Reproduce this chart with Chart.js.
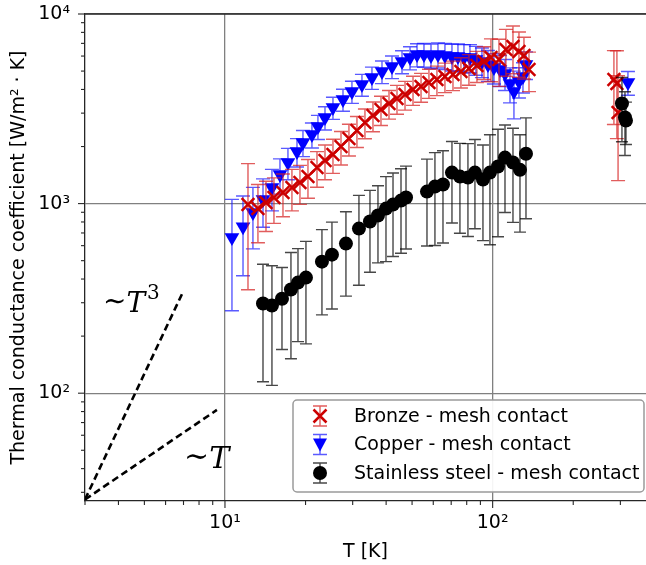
<!DOCTYPE html>
<html><head><meta charset="utf-8">
<script src="https://cdn.jsdelivr.net/npm/chart.js@4.4.1/dist/chart.umd.min.js"></script>
<style>html,body{margin:0;padding:0;background:#fff;}canvas{display:block;}</style>
</head><body>
<canvas id="c" width="646" height="565"></canvas>
<script>
// ---------- data ----------
const bronzeT = [12.19,13.28,14.23,15.24,16.47,17.79,19.06,20.42,22.07,23.64,25.32,27.13,29.05,31.12,33.34,35.72,38.27,41.00,43.92,47.06,50.41,54.01,57.81,61.92,66.34,71.09,76.13,81.55,87.36,92.80,98.56,105.6,112.1,119.1,125.4,130.9,136.7,283.8,291.2,294.1];
const bronzeH = [988,941,1012,1076,1143,1215,1291,1388,1549,1686,1814,1999,2203,2428,2676,2913,3133,3371,3582,3760,3995,4144,4351,4512,4680,4794,4973,5157,5349,5616,5894,5753,6496,6737,6340,6039,5095,4512,4300,3021];
const bronzeErr = [637,320,300,290,290,300,300,320,330,350,370,400,420,450,480,520,550,580,620,650,700,720,760,800,830,850,900,950,1000,1100,1500,1600,1800,1900,1700,1500,1200,1900,2100,1700];

const copperT = [10.62,11.68,12.72,13.87,14.98,16.05,17.19,18.58,19.56,21.13,22.25,23.64,25.32,27.60,29.81,32.49,35.41,38.60,42.07,45.86,49.12,52.18,55.39,58.84,62.48,66.34,70.47,74.20,78.13,82.27,86.61,91.20,96.03,101.1,106.5,111.2,116.1,120.1,125.4,129.8,133.2,320.2];
const copperH = [662,756,897,1050,1215,1422,1646,1881,2099,2313,2549,2843,3211,3538,3899,4246,4624,4973,5284,5616,5894,6114,6114,6039,6114,6039,5967,5967,5894,5894,5753,5616,5414,5220,5095,4850,4300,3899,4405,4680,5414,4351];
const copperErr = [390,340,320,300,300,300,310,320,330,350,370,400,430,470,520,560,620,680,720,780,820,850,880,900,920,950,960,980,1000,1000,1000,1000,1000,950,950,900,900,1100,800,850,900,620];

const steelT = [13.87,14.98,16.33,17.64,18.74,20.07,23.03,25.10,28.31,31.66,34.81,37.29,39.95,42.44,45.46,47.46,56.84,60.87,65.23,70.47,75.47,80.85,85.87,92.00,97.70,104.7,111.2,119.1,126.5,133.2,304.1,312.1,314.8];
const steelH = [297,290,315,352,383,407,494,538,615,738,804,865,941,988,1037,1076,1157,1229,1260,1457,1388,1371,1457,1338,1457,1568,1748,1646,1507,1832,3371,2843,2740];
const steelErr = [182,180,145,200,196,225,235,260,290,367,370,378,447,462,490,500,560,628,640,667,690,700,720,700,850,900,850,850,800,1000,1250,1050,690];

const cubeLineT = [3, 6.97];
const cubeLineH = [27.5, 342];
const linLineT = [3, 9.33];
const linLineH = [27.5, 81.6];

const xTicks = [3,4,5,6,7,8,9,10,20,30,40,50,60,70,80,90,100,200,300];
const yTicks = [30,40,50,60,70,80,90,100,200,300,400,500,600,700,800,900,1000,2000,3000,4000,5000,6000,7000,8000,9000,10000];
const xRange = [3, 374];
const yRange = [27, 10000];

const seriesNames = ['Bronze - mesh contact','Copper - mesh contact','Stainless steel - mesh contact'];

// ---------- helpers ----------
const SUP = {'1':'¹','2':'²','3':'³','4':'⁴'};
function isPow10(v){ const l = Math.log10(v); return Math.abs(l - Math.round(l)) < 1e-9; }
function fmt(v){ if(!isPow10(v)) return ''; return '10' + SUP[String(Math.round(Math.log10(v)))]; }
function pts(xs, ys){ return xs.map((x,i)=>({x:x, y:ys[i]})); }

const FONT = 'DejaVu Sans';
const GRID = '#808080';
const SPINE = '#262626';
const RED = '#cc0000', BLUE = '#0000ff', BLACK = '#000000';
const RED_ERR = 'rgba(214,30,30,0.72)', BLUE_ERR = 'rgba(20,20,255,0.7)', BLACK_ERR = 'rgba(0,0,0,0.72)';

Chart.defaults.font.family = FONT;
Chart.defaults.font.size = 19;
Chart.defaults.color = '#000';

function drawErr(ctx, x, yTop, yBot, cap){
  ctx.beginPath();
  ctx.moveTo(x, yTop); ctx.lineTo(x, yBot);
  ctx.moveTo(x-cap, yTop); ctx.lineTo(x+cap, yTop);
  ctx.moveTo(x-cap, yBot); ctx.lineTo(x+cap, yBot);
  ctx.stroke();
}

const errorBars = {
  id: 'errorBars',
  beforeDatasetDraw(chart, args){
    const ds = chart.data.datasets[args.index];
    if (!ds.errors) return;
    const ctx = chart.ctx, a = chart.chartArea;
    const xs = chart.scales.x, ys = chart.scales.y;
    ctx.save();
    ctx.beginPath(); ctx.rect(a.left, a.top, a.right-a.left, a.bottom-a.top); ctx.clip();
    ctx.strokeStyle = ds.errColor; ctx.lineWidth = 1.4;
    ds.data.forEach((p,i)=>{
      const e = ds.errors[i];
      const px = xs.getPixelForValue(p.x);
      const t = ys.getPixelForValue(p.y + e);
      const b = ys.getPixelForValue(Math.max(p.y - e, 1));
      drawErr(ctx, px, t, b, ds.capHalf);
    });
    ctx.restore();
  }
};

const frame = {
  id: 'frame',
  afterDraw(chart){
    const ctx = chart.ctx, a = chart.chartArea;
    const xs = chart.scales.x, ys = chart.scales.y;
    ctx.save();
    ctx.strokeStyle = SPINE; ctx.lineWidth = 1.3;
    ctx.beginPath(); ctx.moveTo(a.left, a.top); ctx.lineTo(a.right, a.top); ctx.stroke();
    ctx.lineWidth = 1.1;
    xTicks.forEach(v=>{
      const p = xs.getPixelForValue(v); const L = isPow10(v) ? 7 : 4;
      ctx.beginPath(); ctx.moveTo(p, a.bottom); ctx.lineTo(p, a.bottom + L); ctx.stroke();
    });
    yTicks.forEach(v=>{
      const p = ys.getPixelForValue(v); const L = isPow10(v) ? 7 : 4;
      ctx.beginPath(); ctx.moveTo(a.left, p); ctx.lineTo(a.left - L, p); ctx.stroke();
    });
    ctx.restore();
  }
};

const annotations = {
  id: 'annotations',
  afterDatasetsDraw(chart){
    const ctx = chart.ctx;
    const xs = chart.scales.x, ys = chart.scales.y;
    function mathLabel(xv, yv, sup, size){
      let x = xs.getPixelForValue(xv), y = ys.getPixelForValue(yv);
      ctx.save();
      ctx.fillStyle = '#000'; ctx.textBaseline = 'alphabetic'; ctx.textAlign = 'left';
      ctx.font = size + 'px "DejaVu Serif"';
      ctx.fillText('∼', x, y - 2); x += ctx.measureText('∼').width;
      ctx.font = 'italic ' + size + 'px "DejaVu Serif"';
      ctx.fillText('T', x, y); x += ctx.measureText('T').width + 2;
      if (sup){ ctx.font = Math.round(size*0.7) + 'px "DejaVu Serif"'; ctx.fillText(sup, x, y - size*0.48); }
      ctx.restore();
    }
    mathLabel(3.50, 268, '3', 28);
    mathLabel(7.03, 40.3, '', 30);
  }
};

function legendMarker(ctx, i, x, y){
  const cols = [RED, BLUE, BLACK];
  const errCols = [RED_ERR, BLUE_ERR, BLACK_ERR];
  ctx.strokeStyle = errCols[i]; ctx.lineWidth = 1.4;
  drawErr(ctx, x, y-10, y+10, 7);
  ctx.fillStyle = cols[i]; ctx.strokeStyle = cols[i];
  if (i === 0){
    ctx.lineWidth = 2.5; const h = 6.5;
    ctx.beginPath(); ctx.moveTo(x-h,y-h); ctx.lineTo(x+h,y+h); ctx.moveTo(x+h,y-h); ctx.lineTo(x-h,y+h); ctx.stroke();
  } else if (i === 1){
    ctx.beginPath(); ctx.moveTo(x-7, y-6); ctx.lineTo(x+7, y-6); ctx.lineTo(x, y+7); ctx.closePath(); ctx.fill();
  } else {
    ctx.beginPath(); ctx.arc(x, y, 7, 0, Math.PI*2); ctx.fill();
  }
}

const legendBox = {
  id: 'legendBox',
  afterDraw(chart){
    const ctx = chart.ctx, a = chart.chartArea;
    const w = 351, h = 92;
    const x0 = a.right - w - 2, y0 = a.bottom - h - 9;
    ctx.save();
    ctx.beginPath();
    if (ctx.roundRect) ctx.roundRect(x0, y0, w, h, 4); else ctx.rect(x0, y0, w, h);
    ctx.fillStyle = 'rgba(255,255,255,0.92)'; ctx.fill();
    ctx.strokeStyle = '#9a9a9a'; ctx.lineWidth = 1.5; ctx.stroke();
    ctx.font = '19px "' + FONT + '"'; ctx.textBaseline = 'middle'; ctx.textAlign = 'left';
    seriesNames.forEach((name, i)=>{
      const ry = y0 + 16 + i * 28.5;
      legendMarker(ctx, i, x0 + 27, ry);
      ctx.fillStyle = '#000';
      ctx.fillText(name, x0 + 61, ry + 1);
    });
    ctx.restore();
  }
};

new Chart(document.getElementById('c'), {
  type: 'scatter',
  data: {
    datasets: [
      { label: seriesNames[2], data: pts(steelT, steelH), errors: steelErr, errColor: BLACK_ERR, capHalf: 6,
        pointStyle: 'circle', pointRadius: 7, backgroundColor: BLACK, borderColor: BLACK, borderWidth: 0, order: 0 },
      { label: seriesNames[0], data: pts(bronzeT, bronzeH), errors: bronzeErr, errColor: RED_ERR, capHalf: 7,
        pointStyle: 'crossRot', pointRadius: 9, borderColor: RED, backgroundColor: RED, borderWidth: 2.5, order: 1 },
      { label: seriesNames[1], data: pts(copperT, copperH), errors: copperErr, errColor: BLUE_ERR, capHalf: 7,
        pointStyle: 'triangle', pointRotation: 180, pointRadius: 8.5, backgroundColor: BLUE, borderColor: BLUE, borderWidth: 0, order: 2 },
      { label: 'T3', data: pts(cubeLineT, cubeLineH), showLine: true, borderColor: '#000', borderWidth: 2.6, borderDash: [7,4],
        pointRadius: 0, order: 3 },
      { label: 'T1', data: pts(linLineT, linLineH), showLine: true, borderColor: '#000', borderWidth: 2.6, borderDash: [7,4],
        pointRadius: 0, order: 3 }
    ]
  },
  options: {
    responsive: false, animation: false, devicePixelRatio: 1,
    layout: { autoPadding: false, padding: { top: 14, right: 0, left: 0, bottom: 0 } },
    plugins: { legend: { display: false }, tooltip: { enabled: false } },
    scales: {
      x: {
        type: 'logarithmic', min: xRange[0], max: xRange[1],
        afterBuildTicks: s => { s.ticks = xTicks.map(v => ({ value: v })); },
        afterFit: s => { s.height = 64; s.paddingLeft = 0; s.paddingRight = 0; },
        grid: { color: c => (c.tick && isPow10(c.tick.value)) ? GRID : 'rgba(0,0,0,0)', lineWidth: 1.3, drawTicks: false },
        border: { color: SPINE, width: 1.3 },
        ticks: { callback: v => fmt(v), autoSkip: false, maxRotation: 0, padding: 11, color: '#000' },
        title: { display: true, text: 'T [K]', padding: { top: 0, bottom: 2 }, color: '#000' }
      },
      y: {
        type: 'logarithmic', min: yRange[0], max: yRange[1],
        afterBuildTicks: s => { s.ticks = yTicks.map(v => ({ value: v })); },
        afterFit: s => { s.width = 85; s.paddingTop = 0; s.paddingBottom = 0; },
        grid: { color: c => (c.tick && isPow10(c.tick.value)) ? GRID : 'rgba(0,0,0,0)', lineWidth: 1.3, drawTicks: false },
        border: { color: SPINE, width: 1.3 },
        ticks: { callback: v => fmt(v), autoSkip: false, padding: 15, color: '#000' },
        title: { display: true, text: 'Thermal conductance coefficient [W/m² · K]', padding: { top: 8, bottom: 0 }, color: '#000' }
      }
    }
  },
  plugins: [errorBars, frame, annotations, legendBox]
});
</script>
</body></html>
